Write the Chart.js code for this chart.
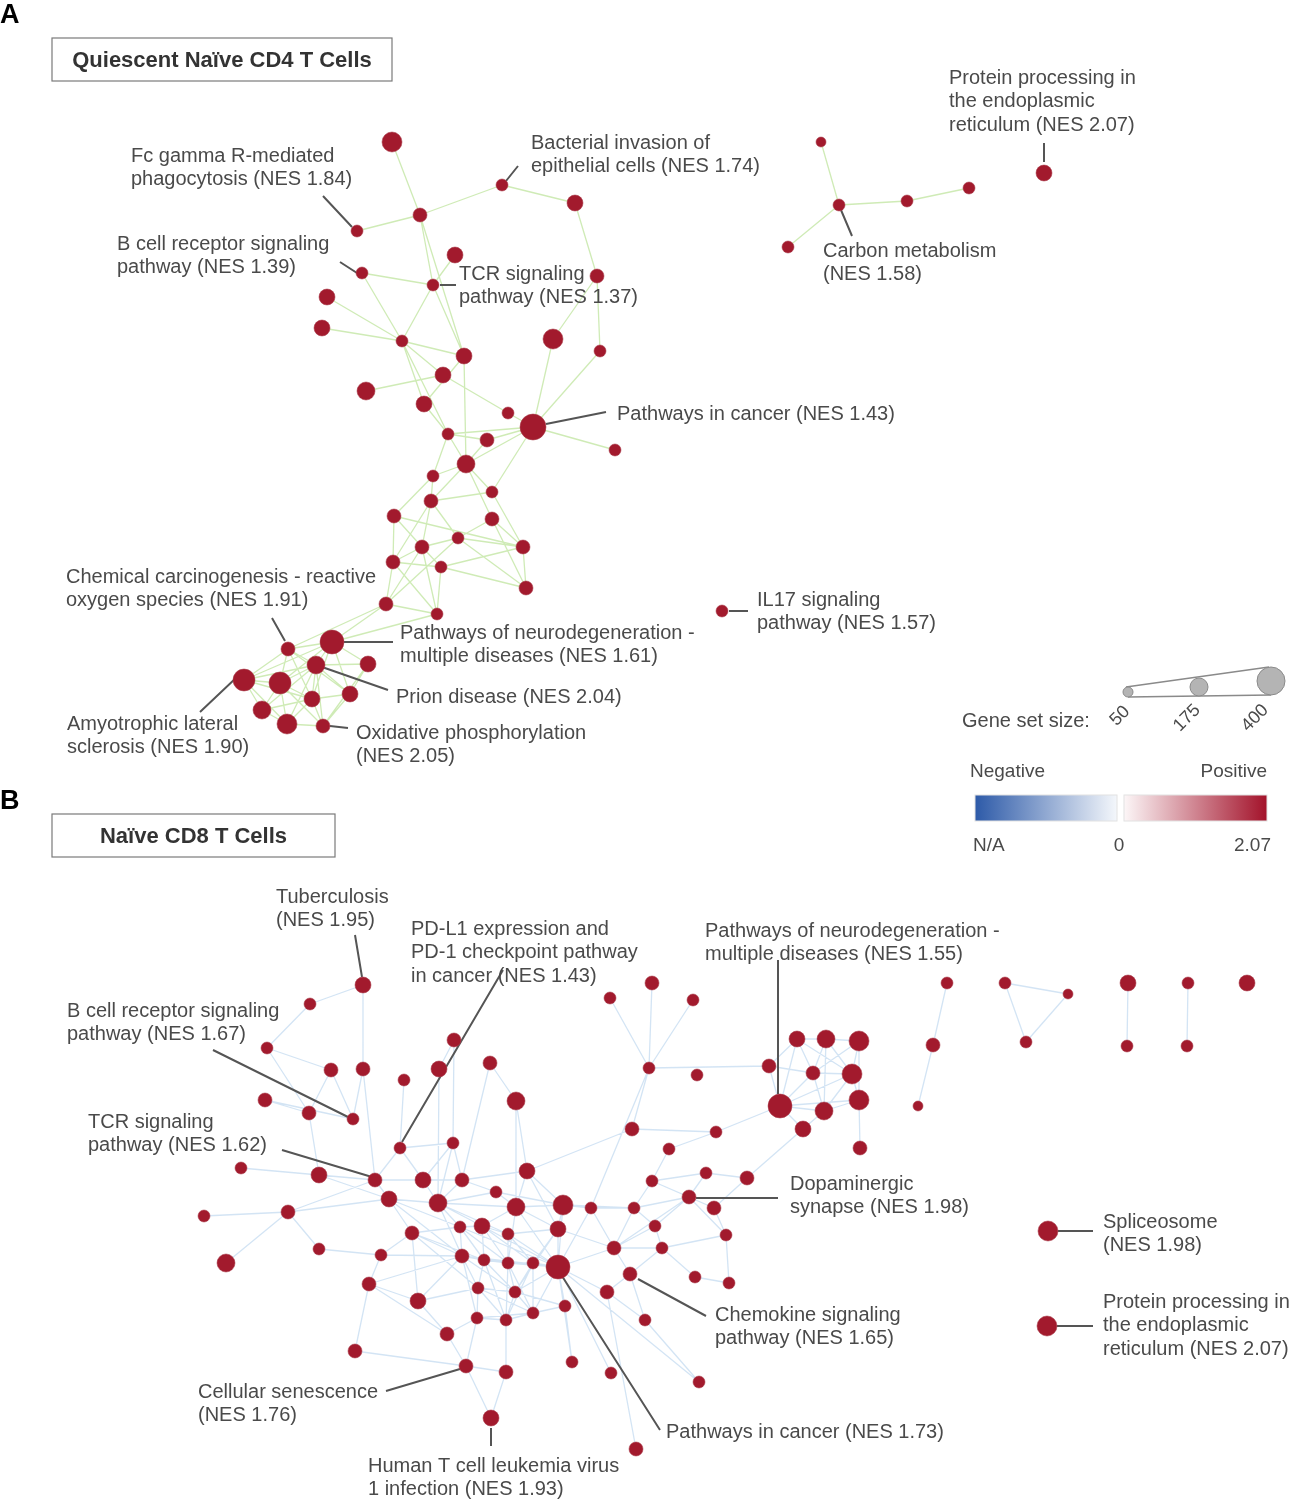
<!DOCTYPE html>
<html>
<head>
<meta charset="utf-8">
<script src="https://cdn.jsdelivr.net/npm/chart.js@4.4.1/dist/chart.umd.min.js"></script>
<style>
html, body { margin: 0; padding: 0; background: #fff; }
#wrap { position: relative; width: 1298px; height: 1507px; }
</style>
</head>
<body>
<div id="wrap"><canvas id="network"></canvas></div>
<script>
// Panel A: quiescent naive CD4 T cells (layout coords)
const nodeAX = [392,502,575,420,357,455,362,433,597,327,322,402,464,553,600,366,443,424,508,533,615,448,487,466,433,492,431,394,492,422,458,523,393,441,526,386,437,288,332,368,316,244,280,312,350,262,287,323,821,839,907,969,788,1044,722];
const nodeAY = [142,185,203,215,231,255,273,285,276,297,328,341,356,339,351,391,375,404,413,427,450,434,440,464,476,492,501,516,519,547,538,547,562,567,588,604,614,649,642,664,665,680,683,699,694,710,724,726,142,205,201,188,247,173,611];
const nodeAR = [10,6,8,7,6,8,6,6,7,8,8,6,8,10,6,9,8,8,6,13,6,6,7,9,6,6,7,7,7,7,6,7,7,6,7,7,6,7,12,8,9,11,11,8,8,9,10,7,5,6,6,6,6,8,6];
const edgesA = [[0,3],[4,3],[3,1],[1,2],[2,8],[3,7],[3,12],[5,7],[6,7],[6,11],[7,11],[7,12],[8,13],[8,14],[14,19],[13,19],[9,11],[10,11],[11,12],[11,16],[11,21],[11,17],[15,16],[12,23],[12,17],[16,18],[17,21],[21,23],[21,24],[21,22],[19,18],[19,20],[19,22],[19,21],[19,23],[19,25],[23,24],[23,26],[23,25],[23,28],[24,27],[26,25],[26,29],[26,30],[27,32],[27,29],[27,31],[28,30],[28,31],[25,31],[29,30],[29,35],[30,31],[30,34],[33,31],[33,34],[32,33],[32,35],[35,30],[35,36],[32,36],[31,34],[35,38],[35,37],[36,38],[29,32],[33,36],[24,26],[26,32],[29,33],[28,34],[22,23],[29,36],
  [48,49],[49,50],[50,51],[49,52],
  [37,38],[37,40],[37,42],[37,41],[38,40],[38,39],[38,42],[38,44],[39,40],[39,44],[40,41],[40,42],[40,43],[40,44],[40,45],[40,46],[40,47],[41,42],[41,45],[41,46],[42,43],[42,45],[42,46],[42,47],[43,44],[43,46],[43,47],[44,47],[45,46],[46,47],[39,47],[41,43],[37,44],[38,43],[37,43],[45,43],[38,41]];

// Panel B: naive CD8 T cells
const nodeBX = [363,310,267,331,363,404,439,454,490,516,265,309,353,400,453,241,319,375,423,462,527,389,438,496,516,563,591,204,288,412,460,482,508,558,319,381,462,484,508,533,558,226,369,418,478,515,477,506,533,447,565,355,466,506,572,611,491,636,699,614,630,607,645,634,652,706,747,689,714,655,662,726,695,729,632,716,669,652,610,693,649,697,769,797,826,859,813,852,780,824,859,803,860,947,933,918,1005,1068,1026,1128,1127,1188,1187,1247,1048,1047];
const nodeBY = [985,1004,1048,1070,1069,1080,1069,1040,1063,1101,1100,1113,1119,1148,1143,1168,1175,1180,1180,1180,1171,1199,1203,1192,1207,1205,1208,1216,1212,1233,1227,1226,1234,1229,1249,1255,1256,1260,1263,1263,1267,1263,1284,1301,1288,1292,1318,1320,1313,1334,1306,1351,1366,1372,1362,1373,1418,1449,1382,1248,1274,1292,1320,1208,1181,1173,1178,1197,1208,1226,1248,1235,1277,1283,1129,1132,1149,983,998,1000,1068,1075,1066,1039,1039,1041,1073,1074,1106,1111,1100,1129,1148,983,1045,1106,983,994,1042,983,1046,983,1046,983,1231,1326];
const nodeBR = [8,6,6,7,7,6,8,7,7,9,7,7,6,6,6,6,8,7,8,7,8,8,9,6,9,10,6,6,7,7,6,8,6,8,6,6,7,6,6,6,12,9,7,8,6,6,6,6,6,7,6,7,7,7,6,6,8,7,6,7,7,7,6,6,6,6,7,7,7,6,6,6,6,6,7,6,6,7,6,6,6,6,7,8,9,10,7,10,12,9,10,8,7,6,7,5,6,5,6,8,6,6,6,8,10,10];
const edgesB = [[1,0],[0,4],[1,2],[2,3],[2,11],[3,11],[3,12],[4,12],[4,17],[10,12],[10,11],[5,13],[13,17],[13,18],[13,14],[14,18],[14,19],[14,22],[7,14],[8,19],[6,22],[9,20],[9,24],[15,16],[16,17],[17,18],[17,21],[18,19],[18,22],[19,20],[19,22],[19,23],[21,22],[21,29],[22,23],[22,24],[22,30],[23,24],[24,25],[24,31],[24,33],[25,26],[25,33],[25,40],[20,25],[20,24],[27,28],[28,21],[28,17],[41,28],[34,35],[35,29],[35,36],[29,30],[29,36],[30,31],[31,32],[32,33],[30,36],[31,37],[32,38],[33,39],[33,40],[36,37],[37,38],[38,39],[39,40],[36,44],[37,44],[38,45],[39,45],[40,45],[40,48],[40,50],[44,46],[45,47],[46,47],[47,48],[48,50],[44,45],[36,42],[42,43],[43,36],[43,44],[43,49],[49,46],[49,52],[46,52],[47,53],[53,52],[52,51],[51,42],[52,56],[53,56],[40,54],[40,55],[40,58],[50,54],[40,59],[40,61],[40,26],[26,63],[26,59],[59,60],[60,61],[60,62],[59,69],[63,64],[63,67],[63,69],[64,67],[64,65],[65,66],[65,67],[67,68],[67,69],[68,71],[69,70],[70,71],[70,72],[72,73],[71,73],[68,66],[66,91],[74,75],[75,76],[76,64],[77,80],[78,80],[79,80],[80,82],[80,26],[82,88],[82,83],[82,86],[88,75],[83,84],[84,85],[83,86],[84,86],[84,87],[85,87],[86,87],[86,88],[87,88],[83,88],[88,89],[86,89],[87,89],[89,90],[87,90],[85,90],[88,91],[89,91],[90,92],[88,90],[84,89],[85,86],[83,87],[61,57],[58,62],[24,40],[32,40],[31,40],[38,40],[36,40],[37,40],[33,45],[31,38],[30,37],[36,38],[22,31],[23,25],[20,33],[59,67],[60,70],[61,62],[39,47],[38,47],[37,47],[36,46],[44,47],[45,48],[29,43],[35,42],[16,21],[11,16],[28,34],[42,49],[33,59],[25,63],[20,74],[74,80],[9,8],[6,7],
  [29,37],[30,38],[31,39],[32,39],[36,45],[37,45],[38,48],[44,48],[46,48],[29,44],[22,36],[24,38],[21,36],[30,40],[45,50],[39,48],[21,30],[22,32],[59,63],[59,70],[69,67],[64,68],[67,71],
  [93,94],[94,95],[96,97],[96,98],[97,98],[99,100],[101,102]];

// leader lines from labels to nodes: [x1, y1, x2, y2]
const leaders = [
  [323,196,352,227],[340,262,357,273],[440,285,456,285],[506,181,518,166],[546,424,606,412],
  [841,210,852,236],[1044,143,1044,162],[729,611,748,611],[272,618,285,641],[344,642,393,642],
  [322,667,388,690],[200,712,237,677],[330,726,348,728],
  [355,935,362,977],[503,970,402,1142],[213,1050,348,1117],[282,1150,372,1177],[778,960,778,1094],
  [696,1198,778,1198],[1058,1231,1093,1231],[1057,1326,1093,1326],[638,1279,706,1316],
  [562,1276,660,1430],[386,1391,460,1369],[491,1428,491,1446]
];

const labels = [
  {x:949, y:78, lines:['Protein processing in','the endoplasmic','reticulum (NES 2.07)']},
  {x:531, y:143, lines:['Bacterial invasion of','epithelial cells (NES 1.74)']},
  {x:131, y:156, lines:['Fc gamma R-mediated','phagocytosis (NES 1.84)']},
  {x:117, y:244, lines:['B cell receptor signaling','pathway (NES 1.39)']},
  {x:459, y:274, lines:['TCR signaling','pathway (NES 1.37)']},
  {x:823, y:251, lines:['Carbon metabolism','(NES 1.58)']},
  {x:617, y:414, lines:['Pathways in cancer (NES 1.43)']},
  {x:66, y:577, lines:['Chemical carcinogenesis - reactive','oxygen species (NES 1.91)']},
  {x:757, y:600, lines:['IL17 signaling','pathway (NES 1.57)']},
  {x:400, y:633, lines:['Pathways of neurodegeneration -','multiple diseases (NES 1.61)']},
  {x:396, y:697, lines:['Prion disease (NES 2.04)']},
  {x:67, y:724, lines:['Amyotrophic lateral','sclerosis (NES 1.90)']},
  {x:356, y:733, lines:['Oxidative phosphorylation','(NES 2.05)']},
  {x:276, y:897, lines:['Tuberculosis','(NES 1.95)']},
  {x:411, y:929, lines:['PD-L1 expression and','PD-1 checkpoint pathway','in cancer (NES 1.43)']},
  {x:705, y:931, lines:['Pathways of neurodegeneration -','multiple diseases (NES 1.55)']},
  {x:67, y:1011, lines:['B cell receptor signaling','pathway (NES 1.67)']},
  {x:88, y:1122, lines:['TCR signaling','pathway (NES 1.62)']},
  {x:790, y:1184, lines:['Dopaminergic','synapse (NES 1.98)']},
  {x:1103, y:1222, lines:['Spliceosome','(NES 1.98)']},
  {x:715, y:1315, lines:['Chemokine signaling','pathway (NES 1.65)']},
  {x:1103, y:1302, lines:['Protein processing in','the endoplasmic','reticulum (NES 2.07)']},
  {x:198, y:1392, lines:['Cellular senescence','(NES 1.76)']},
  {x:666, y:1432, lines:['Pathways in cancer (NES 1.73)']},
  {x:368, y:1466, lines:['Human T cell leukemia virus','1 infection (NES 1.93)']}
];

// legend: gene set size
const sizeTicks = ['50','175','400'];
const sizeX = [1128,1199,1271];
const sizeY = [692,687,681];
const sizeR = [5,9,14];
const nesTicks = ['N/A','0','2.07'];

function nodePoints(xs, ys, rs) {
  return xs.map((x, i) => ({x: x, y: ys[i], r: rs[i]}));
}
function edgePoints(xs, ys, edges) {
  const pts = [];
  edges.forEach(e => {
    pts.push({x: xs[e[0]], y: ys[e[0]]}, {x: xs[e[1]], y: ys[e[1]]}, {x: null, y: null});
  });
  return pts;
}
function leaderPoints(list) {
  const pts = [];
  list.forEach(l => pts.push({x: l[0], y: l[1]}, {x: l[2], y: l[3]}, {x: null, y: null}));
  return pts;
}

const lineStyle = {type: 'line', showLine: true, spanGaps: false, pointRadius: 0, tension: 0, fill: false, clip: false};

const textLayer = {
  id: 'textLayer',
  afterDatasetsDraw(chart) {
    const ctx = chart.ctx;
    const px = v => chart.scales.x.getPixelForValue(v);
    const py = v => chart.scales.y.getPixelForValue(v);
    ctx.save();
    ctx.textBaseline = 'middle';

    // panel letters
    ctx.fillStyle = '#000';
    ctx.font = 'bold 27px "Liberation Sans", Arial, sans-serif';
    ctx.textAlign = 'left';
    ctx.fillText('A', px(0), py(16));
    ctx.fillText('B', px(0), py(802));

    // panel titles in boxes
    [[52,38,340,43,'Quiescent Naïve CD4 T Cells'],[52,814,283,43,'Naïve CD8 T Cells']].forEach(b => {
      ctx.strokeStyle = '#7a7a7a';
      ctx.lineWidth = 1.2;
      ctx.strokeRect(px(b[0]), py(b[1]), b[2], b[3]);
      ctx.fillStyle = '#333';
      ctx.font = 'bold 22px "Liberation Sans", Arial, sans-serif';
      ctx.textAlign = 'center';
      ctx.fillText(b[4], px(b[0] + b[2] / 2), py(b[1] + b[3] / 2 + 1));
    });

    // node labels
    ctx.fillStyle = '#4a4a4a';
    ctx.font = '20px "Liberation Sans", Arial, sans-serif';
    ctx.textAlign = 'left';
    labels.forEach(l => {
      l.lines.forEach((t, i) => ctx.fillText(t, px(l.x), py(l.y + i * 23.8)));
    });

    // size legend
    ctx.fillText('Gene set size:', px(962), py(721));
    ctx.font = '18px "Liberation Sans", Arial, sans-serif';
    ctx.textAlign = 'center';
    [[1120,716],[1187,718],[1255,718]].forEach((p, i) => {
      ctx.save();
      ctx.translate(px(p[0]), py(p[1]));
      ctx.rotate(-Math.PI / 4);
      ctx.fillText(sizeTicks[i], 0, 0);
      ctx.restore();
    });

    // NES colour bars
    ctx.font = '19px "Liberation Sans", Arial, sans-serif';
    ctx.textAlign = 'left';
    ctx.fillText('Negative', px(970), py(772));
    ctx.textAlign = 'right';
    ctx.fillText('Positive', px(1267), py(772));
    const blue = ctx.createLinearGradient(px(975), 0, px(1117), 0);
    blue.addColorStop(0, '#2d5aa8');
    blue.addColorStop(1, '#f4f7fb');
    ctx.fillStyle = blue;
    ctx.fillRect(px(975), py(795), 142, 26);
    const red = ctx.createLinearGradient(px(1124), 0, px(1267), 0);
    red.addColorStop(0, '#fcf6f7');
    red.addColorStop(1, '#a3122a');
    ctx.fillStyle = red;
    ctx.fillRect(px(1124), py(795), 143, 26);
    ctx.strokeStyle = '#e2e2e2';
    ctx.lineWidth = 1;
    ctx.strokeRect(px(975), py(795), 142, 26);
    ctx.strokeRect(px(1124), py(795), 143, 26);
    ctx.fillStyle = '#4a4a4a';
    ctx.textAlign = 'left';
    ctx.fillText(nesTicks[0], px(973), py(846));
    ctx.textAlign = 'center';
    ctx.fillText(nesTicks[1], px(1119), py(846));
    ctx.textAlign = 'right';
    ctx.fillText(nesTicks[2], px(1271), py(846));
    ctx.restore();
  }
};

const nodeStyle = {backgroundColor: '#a21a2d', borderColor: 'rgba(170,60,75,0.55)', borderWidth: 1, clip: false};

new Chart(document.getElementById('network'), {
  type: 'bubble',
  data: {
    datasets: [
      Object.assign({label: 'edges A', data: edgePoints(nodeAX, nodeAY, edgesA), borderColor: 'rgba(160,215,110,0.5)', borderWidth: 1.3, order: 5}, lineStyle),
      Object.assign({label: 'edges B', data: edgePoints(nodeBX, nodeBY, edgesB), borderColor: 'rgba(150,190,228,0.42)', borderWidth: 1.3, order: 5}, lineStyle),
      Object.assign({label: 'leaders', data: leaderPoints(leaders), borderColor: '#555', borderWidth: 2, order: 4}, lineStyle),
      Object.assign({label: 'size legend outline', data: [
        {x: 1126, y: 687}, {x: 1269, y: 667}, {x: null, y: null},
        {x: 1128, y: 697}, {x: 1271, y: 695}], borderColor: '#8a8a8a', borderWidth: 1.5, order: 3}, lineStyle),
      {label: 'size legend', data: nodePoints(sizeX, sizeY, sizeR), backgroundColor: '#b4b4b4', borderColor: '#8a8a8a', borderWidth: 1, order: 2, clip: false},
      Object.assign({label: 'CD4 nodes', data: nodePoints(nodeAX, nodeAY, nodeAR), order: 1}, nodeStyle),
      Object.assign({label: 'CD8 nodes', data: nodePoints(nodeBX, nodeBY, nodeBR), order: 1}, nodeStyle)
    ]
  },
  options: {
    responsive: true,
    maintainAspectRatio: false,
    animation: false,
    events: [],
    layout: {padding: 0, autoPadding: false},
    scales: {
      x: {type: 'linear', min: 0, max: 1298, display: false},
      y: {type: 'linear', min: 0, max: 1507, reverse: true, display: false}
    },
    plugins: {
      legend: {display: false},
      tooltip: {enabled: false}
    }
  },
  plugins: [textLayer]
});
</script>
</body>
</html>
